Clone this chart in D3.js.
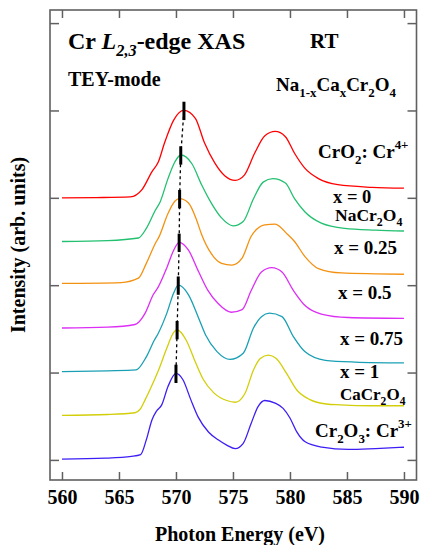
<!DOCTYPE html>
<meta charset="utf-8">
<style>
    body { margin: 0; background: #fff; }
    svg { font-family: "Liberation Serif", "Times New Roman", serif; font-weight: bold; }
    .spec { fill: none; stroke-width: 1.3px; }
    .axis path { display: none; }
    .axis line { stroke: #606060; stroke-width: 1.5px; }
</style>
<svg width="421" height="545"></svg>
<script src="https://d3js.org/d3.v7.min.js"></script>
<script>

    // spectra: [photon energy (eV), intensity relative to own baseline]
    var crO2 = [[560, 0], [563, 0.003], [566, 0.01], [567, 0.09], [567.9, 0.3], [568.45, 0.41], [569, 0.63], [569.8, 0.89],
        [570.7, 1.0], [571.7, 0.91], [572.5, 0.63], [573.4, 0.4], [574.3, 0.25], [575.2, 0.2], [576, 0.26], [576.9, 0.51],
        [577.8, 0.71], [578.7, 0.76], [579.6, 0.7], [580.4, 0.51], [581.3, 0.34], [582.5, 0.22], [584.2, 0.15], [587.2, 0.12], [590, 0.11]];
    var x000 = [[560, 0], [564, 0.01], [566.7, 0.04], [567.4, 0.15], [568.2, 0.36], [568.6, 0.45], [569.3, 0.72], [569.9, 0.91],
        [570.42, 0.99], [571.4, 0.89], [572.25, 0.65], [573.1, 0.44], [574, 0.27], [575, 0.18], [575.9, 0.23], [576.8, 0.49],
        [577.65, 0.68], [578.5, 0.72], [579.6, 0.67], [580.4, 0.49], [581.3, 0.34], [582.75, 0.21], [584.8, 0.15], [587.5, 0.13], [590, 0.12]];
    var x025 = [[560, 0.02], [565.2, 0.03], [566.7, 0.08], [567.4, 0.25], [568.2, 0.48], [568.5, 0.55], [569.3, 0.82], [569.9, 0.96],
        [570.32, 0.99], [571.1, 0.94], [571.8, 0.75], [572.25, 0.58], [573.1, 0.36], [574, 0.25], [574.9, 0.23], [575.8, 0.31],
        [576.6, 0.56], [577.8, 0.69], [578.7, 0.7], [579.8, 0.58], [580.4, 0.5], [581.3, 0.33], [582.5, 0.19], [584.5, 0.14], [587.5, 0.13], [590, 0.125]];
    var x050 = [[560, 0.01], [564, 0.02], [566.4, 0.05], [567.3, 0.18], [568, 0.39], [568.45, 0.48], [569.2, 0.7], [569.8, 0.9],
        [570.28, 0.99], [571.1, 0.9], [572, 0.65], [572.8, 0.44], [573.7, 0.29], [574.85, 0.19], [575.8, 0.22], [576.6, 0.44],
        [577.5, 0.65], [578.4, 0.7], [579.3, 0.65], [580.3, 0.44], [581.3, 0.27], [582.75, 0.17], [585.1, 0.13], [590, 0.12]];
    var x075 = [[560, 0.01], [564, 0.02], [566.5, 0.03], [567.4, 0.18], [568.1, 0.37], [568.45, 0.45], [569.2, 0.68], [569.8, 0.91],
        [570.2, 1.0], [571.1, 0.89], [572, 0.62], [572.6, 0.43], [573.6, 0.24], [574.75, 0.15], [575.9, 0.22], [576.8, 0.51],
        [577.5, 0.64], [578.2, 0.68], [579.3, 0.64], [580.3, 0.41], [581.3, 0.24], [583.1, 0.14], [585.7, 0.12], [590, 0.11]];
    var x100 = [[560, 0.01], [564, 0.02], [566.4, 0.04], [566.85, 0.08], [567.3, 0.19], [568.15, 0.43], [568.45, 0.52], [569.2, 0.78],
        [569.8, 0.96], [570.1, 0.99], [570.9, 0.87], [571.7, 0.62], [572.4, 0.42], [573.3, 0.27], [574.45, 0.18], [575.2, 0.16],
        [576.05, 0.26], [576.8, 0.53], [577.4, 0.66], [578.1, 0.7], [578.8, 0.66], [579.7, 0.49], [580.6, 0.3], [581.75, 0.19],
        [583.2, 0.14], [584.4, 0.13], [587.2, 0.12], [590, 0.12]];
    var cr2O3 = [[560, 0.01], [563.8, 0.02], [566.1, 0.04], [566.9, 0.06], [567.4, 0.23], [567.9, 0.46], [568.3, 0.56], [568.75, 0.63],
        [569.3, 0.84], [570.0, 0.99], [570.6, 0.92], [571.3, 0.69], [571.95, 0.49], [572.85, 0.32], [573.7, 0.23], [574.45, 0.17],
        [575.2, 0.13], [575.9, 0.19], [576.6, 0.42], [577.2, 0.61], [577.8, 0.68], [578.7, 0.65], [579.4, 0.59], [580, 0.48],
        [580.6, 0.32], [581.3, 0.21], [582.8, 0.146], [585.1, 0.12], [587.5, 0.13], [590, 0.145]];

    var spectra = [crO2, x000, x025, x050, x075, x100, cr2O3];
    var offsets = [3, 2.5, 2, 1.5, 1, 0.5, 0];
    var peakEnergy = [570.7, 570.42, 570.32, 570.28, 570.2, 570.1, 570.0];
    var colors = ["#ff0000", "#22c070", "#f39110", "#dc2ef5", "#1aa0b4", "#d2cf0a", "#3c1ef5"];

    var xTicks = [560, 565, 570, 575, 580, 585, 590];
    var yTicks = [0, 1, 2, 3, 4, 5];

    // label pieces: [text, kind]  kind: "" | "i" | "sub" | "isub" | "sup"
    var labels = [
        [["CrO", ""], ["2", "sub"], [": Cr", ""], ["4+", "sup"]],
        [["x = 0", ""]],
        [["NaCr", ""], ["2", "sub"], ["O", ""], ["4", "sub"]],
        [["x = 0.25", ""]],
        [["x = 0.5", ""]],
        [["x = 0.75", ""]],
        [["x = 1", ""]],
        [["CaCr", ""], ["2", "sub"], ["O", ""], ["4", "sub"]],
        [["Cr", ""], ["2", "sub"], ["O", ""], ["3", "sub"], [": Cr", ""], ["3+", "sup"]]
    ];
    var title = [["Cr ", ""], ["L", "i"], ["2,3", "isub"], ["-edge XAS", ""]];
    var compound = [["Na", ""], ["1-x", "sub"], ["Ca", ""], ["x", "sub"], ["Cr", ""], ["2", "sub"], ["O", ""], ["4", "sub"]];

    var svg = d3.select("svg"),
        margin = { top: 10, right: 4.5, bottom: 65, left: 50 },
        width = svg.attr("width") - margin.left - margin.right,
        height = svg.attr("height") - margin.top - margin.bottom;

    var x = d3.scaleLinear().domain([558.95, 591.1]).range([margin.left, margin.left + width]);
    var y = d3.scaleLinear().domain([-0.23, 5.15]).range([margin.top + height, margin.top]);

    // frame
    svg.append("rect")
        .attr("x", margin.left).attr("y", margin.top)
        .attr("width", width).attr("height", height)
        .attr("fill", "none").attr("stroke", "#606060").attr("stroke-width", 1.6);

    svg.append("g").attr("class", "axis")
        .attr("transform", "translate(0," + (margin.top + height) + ")")
        .call(d3.axisBottom(x).tickValues(xTicks).tickSize(-8).tickPadding(10).tickFormat(d3.format("d")))
        .call(g => g.selectAll("text")
            .attr("font-family", "'Liberation Serif', serif")
            .attr("font-weight", "bold")
            .attr("font-size", 20)
            .attr("fill", "#000"));
    svg.append("g").attr("class", "axis")
        .attr("transform", "translate(0," + margin.top + ")")
        .call(d3.axisTop(x).tickValues(xTicks).tickSize(-8).tickFormat(""));
    svg.append("g").attr("class", "axis")
        .attr("transform", "translate(" + margin.left + ",0)")
        .call(d3.axisLeft(y).tickValues(yTicks).tickSize(-9).tickFormat(""));
    svg.append("g").attr("class", "axis")
        .attr("transform", "translate(" + (margin.left + width) + ",0)")
        .call(d3.axisRight(y).tickValues(yTicks).tickSize(-9).tickFormat(""));

    // spectra
    spectra.forEach(function (s, i) {
        var line = d3.line()
            .curve(d3.curveMonotoneX)
            .x(function (d) { return x(d[0]); })
            .y(function (d) { return y(d[1] + offsets[i]); });
        svg.append("path")
            .attr("class", "spec")
            .attr("d", line(s))
            .style("stroke", colors[i]);
    });

    // peak markers
    var peaks = spectra.map(function (s, i) {
        return [peakEnergy[i], offsets[i] + d3.max(s, function (d) { return d[1]; })];
    });
    svg.append("path")
        .attr("d", d3.line().x(function (d) { return x(d[0]); }).y(function (d) { return y(d[1]); })(peaks))
        .attr("fill", "none").attr("stroke", "#000").attr("stroke-width", 1.3)
        .attr("stroke-dasharray", "3,3");
    svg.selectAll(".peak").data(peaks).enter().append("line")
        .attr("class", "peak")
        .attr("x1", function (d) { return x(d[0]); })
        .attr("x2", function (d) { return x(d[0]); })
        .attr("y1", function (d) { return y(d[1] + 0.1); })
        .attr("y2", function (d) { return y(d[1] - 0.11); })
        .attr("stroke", "#000").attr("stroke-width", 3);

    // text with sub/superscripts
    function richText(px, py, size, parts) {
        var t = svg.append("text").attr("x", px).attr("y", py).attr("font-size", size).attr("fill", "#000");
        var shift = 0;
        parts.forEach(function (p) {
            var k = p[1], target = 0, fs = size;
            if (k == "sub" || k == "isub") { target = size * 0.3; fs = size * 0.68; }
            if (k == "sup") { target = -size * 0.5; fs = size * 0.68; }
            t.append("tspan")
                .attr("dy", target - shift)
                .attr("font-size", fs)
                .attr("font-style", (k == "i" || k == "isub") ? "italic" : "normal")
                .text(p[0]);
            shift = target;
        });
        return t;
    }

    richText(68, 49, 24, title);
    richText(310, 48, 21, [["RT", ""]]);
    richText(68, 86, 20, [["TEY-mode", ""]]);
    richText(276, 91, 19, compound);

    var labelPos = [[318, 158, 19], [333, 203, 18.5], [335, 221, 17.5], [334, 254, 19], [338, 299, 19],
        [340, 345, 19], [340, 378, 19], [340, 400, 17], [315, 437, 19]];
    labels.forEach(function (l, i) {
        richText(labelPos[i][0], labelPos[i][1], labelPos[i][2], l);
    });

    // axis titles
    svg.append("text")
        .attr("x", 240).attr("y", 541)
        .attr("text-anchor", "middle").attr("font-size", 20)
        .text("Photon Energy (eV)");
    svg.append("text")
        .attr("transform", "translate(25," + (margin.top + height / 2) + ") rotate(-90)")
        .attr("text-anchor", "middle").attr("font-size", 20)
        .text("Intensity (arb. units)");

</script>
